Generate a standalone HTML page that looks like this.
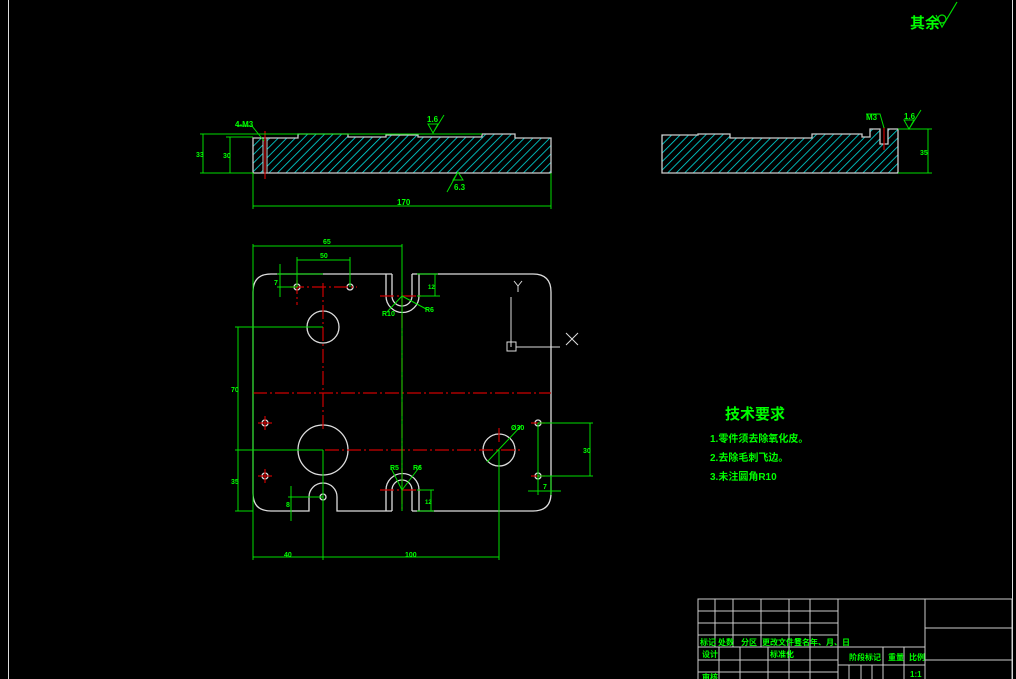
<!DOCTYPE html>
<html><head><meta charset="utf-8"><style>
html,body{margin:0;padding:0;background:#000;}
svg{display:block}
text{font-family:"Liberation Sans","Noto Sans CJK SC",sans-serif;fill:#00ff00;font-weight:bold}
</style></head><body>
<svg width="1016" height="679" viewBox="0 0 1016 679" xmlns="http://www.w3.org/2000/svg">
<defs>
<pattern id="h" patternUnits="userSpaceOnUse" width="6" height="6" patternTransform="rotate(45)">
<line x1="0" y1="0" x2="0" y2="6" stroke="#00e0e0" stroke-width="1.6"/>
</pattern>
</defs>
<rect width="1016" height="679" fill="#000"/>
<line x1="8.5" y1="0" x2="8.5" y2="679" stroke="#ddd" stroke-width="1"/>
<line x1="1012.5" y1="0" x2="1012.5" y2="679" stroke="#ddd" stroke-width="1"/>

<!-- 其余 -->
<text x="910" y="28" font-size="15">其余</text>
<g stroke="#00dd00" stroke-width="1.2" fill="none">
<circle cx="942" cy="19" r="4"/><path d="M936 15 L942 27 L957 2"/>
</g>

<!-- Front/side section view -->
<g>
<path d="M253 138 L298 138 L298 134 L348 134 L348 137 L386 137 L386 135 L418 135 L418 137 L482 137 L482 134 L515 134 L515 138 L551 138 L551 173 L253 173 Z" fill="url(#h)" stroke="#ccc" stroke-width="1.3"/>
<rect x="263" y="138" width="4" height="35" fill="#000" stroke="#ccc" stroke-width="1"/>
<line x1="265" y1="131" x2="265" y2="179" stroke="#c00" stroke-width="1.2"/>
</g>
<g stroke="#00dd00" stroke-width="1" fill="none">
<line x1="200" y1="134" x2="482" y2="134"/>
<line x1="200" y1="173" x2="253" y2="173"/>
<line x1="226" y1="137" x2="253" y2="137"/>
<line x1="203" y1="134" x2="203" y2="173"/>
<line x1="230" y1="137" x2="230" y2="173"/>
<line x1="253" y1="173" x2="253" y2="209"/>
<line x1="551" y1="173" x2="551" y2="209"/>
<line x1="253" y1="206" x2="551" y2="206"/>
<path d="M237 126 L252 126 L264 141"/>
<path d="M428 124 L433 133 L438 124 Z M433 133 L444 115"/>
<path d="M453 180 L458 172 L463 180 Z M458 172 L447 192"/>
</g>
<text x="235" y="127" font-size="8">4-M3</text>
<text x="427" y="122" font-size="8">1.6</text>
<text x="454" y="190" font-size="8">6.3</text>
<text x="196" y="157" font-size="7">33</text>
<text x="223" y="158" font-size="7">30</text>
<text x="397" y="205" font-size="8">170</text>

<!-- Right section view -->
<path d="M662 135 L698 135 L698 134 L730 134 L730 138 L812 138 L812 134 L862 134 L862 137 L870 137 L870 129 L880 129 L880 144 L888 144 L888 129 L898 129 L898 173 L662 173 Z" fill="url(#h)" stroke="#ccc" stroke-width="1.3"/>
<line x1="884" y1="127" x2="884" y2="150" stroke="#c00" stroke-width="1.2"/>
<g stroke="#00dd00" stroke-width="1" fill="none">
<line x1="898" y1="129" x2="932" y2="129"/>
<line x1="898" y1="173" x2="932" y2="173"/>
<line x1="928" y1="129" x2="928" y2="173"/>
<path d="M866 114 L880 114 L884 128"/>
<path d="M904 120 L909 129 L914 120 Z M909 129 L921 110"/>
</g>
<text x="866" y="120" font-size="8">M3</text>
<text x="904" y="119" font-size="8">1.6</text>
<text x="920" y="155" font-size="7">35</text>

<!-- Plan view -->
<g stroke="#ddd" stroke-width="1.3" fill="none">
<path d="M392 274 L271 274 Q253 274 253 292 L253 493 Q253 511 271 511 L309 511 L309 497 A14 14 0 0 1 337 497 L337 511 L392 511"/>
<path d="M412 274 L533 274 Q551 274 551 292 L551 493 Q551 511 533 511 L412 511"/>
<path d="M386 274 L386 296 A16 16 0 0 0 419 296 L419 274"/>
<path d="M392 274 L392 296 A10 10 0 0 0 412 296 L412 274"/>
<path d="M386 511 L386 490 A16 16 0 0 1 419 490 L419 511"/>
<path d="M392 511 L392 490 A10 10 0 0 1 412 490 L412 511"/>
<circle cx="323" cy="327" r="16"/>
<circle cx="323" cy="450" r="25"/>
<circle cx="499" cy="450" r="16"/>
<circle cx="323" cy="497" r="3"/>
<circle cx="297" cy="287" r="3"/><circle cx="350" cy="287" r="3"/>
<circle cx="265" cy="423" r="3"/><circle cx="265" cy="476" r="3"/>
<circle cx="538" cy="423" r="3"/><circle cx="538" cy="476" r="3"/>
</g>
<g stroke="#c00" stroke-width="1.2" fill="none" stroke-dasharray="14 3 2 3">
<line x1="253" y1="393" x2="551" y2="393"/>
<line x1="325" y1="450" x2="522" y2="450"/>
<line x1="323" y1="283" x2="323" y2="430"/>
<line x1="402" y1="292" x2="402" y2="510"/>
<line x1="380" y1="296" x2="424" y2="296"/>
<line x1="380" y1="490" x2="424" y2="490"/>
<line x1="499" y1="428" x2="499" y2="445"/>
<line x1="290" y1="287" x2="357" y2="287"/>
<line x1="297" y1="280" x2="297" y2="305"/>
<line x1="258" y1="423" x2="272" y2="423"/><line x1="265" y1="416" x2="265" y2="430"/>
<line x1="258" y1="476" x2="272" y2="476"/><line x1="265" y1="469" x2="265" y2="483"/>
<line x1="531" y1="423" x2="545" y2="423"/><line x1="531" y1="476" x2="545" y2="476"/>
</g>
<g stroke="#00dd00" stroke-width="1" fill="none">
<line x1="253" y1="244" x2="253" y2="560"/>
<line x1="402" y1="244" x2="402" y2="511"/>
<line x1="253" y1="246" x2="402" y2="246"/>
<line x1="297" y1="257" x2="297" y2="287"/><line x1="350" y1="257" x2="350" y2="287"/>
<line x1="297" y1="260" x2="350" y2="260"/>
<line x1="277" y1="274" x2="323" y2="274"/><line x1="277" y1="287" x2="297" y2="287"/>
<line x1="280" y1="264" x2="280" y2="297"/>
<line x1="417" y1="274" x2="438" y2="274"/><line x1="417" y1="296" x2="440" y2="296"/>
<line x1="435" y1="274" x2="435" y2="296"/>
<path d="M402 296 L387 312 M402 296 L428 310"/>
<line x1="235" y1="327" x2="323" y2="327"/>
<line x1="235" y1="450" x2="323" y2="450"/>
<line x1="235" y1="511" x2="253" y2="511"/>
<line x1="238" y1="327" x2="238" y2="511"/>
<line x1="323" y1="450" x2="323" y2="560"/>
<line x1="499" y1="450" x2="499" y2="560"/>
<line x1="253" y1="557" x2="499" y2="557"/>
<line x1="288" y1="497" x2="323" y2="497"/>
<line x1="291" y1="486" x2="291" y2="521"/>
<line x1="538" y1="423" x2="593" y2="423"/><line x1="538" y1="476" x2="593" y2="476"/>
<line x1="590" y1="423" x2="590" y2="476"/>
<line x1="538" y1="423" x2="538" y2="495"/><line x1="551" y1="476" x2="551" y2="495"/>
<line x1="528" y1="491" x2="561" y2="491"/>
<path d="M402 490 L391 468 M402 490 L421 465"/>
<line x1="417" y1="490" x2="434" y2="490"/><line x1="417" y1="511" x2="434" y2="511"/>
<line x1="431" y1="490" x2="431" y2="511"/>
<line x1="487" y1="462" x2="522" y2="425"/>
</g>
<!-- axis -->
<g stroke="#ddd" stroke-width="1" fill="none">
<line x1="511" y1="297" x2="511" y2="347"/>
<rect x="507" y="342" width="9" height="9"/>
<line x1="516" y1="347" x2="560" y2="347"/>
<path d="M514 281 L518 286 L522 281 M518 286 L518 292"/>
<path d="M566 333 L578 345 M578 333 L566 345"/>
</g>
<g font-size="7">
<text x="323" y="244">65</text>
<text x="320" y="258">50</text>
<text x="274" y="285">7</text>
<text x="428" y="289" font-size="6">12</text>
<text x="382" y="316">R10</text>
<text x="425" y="312">R6</text>
<text x="231" y="392">70</text>
<text x="231" y="484">35</text>
<text x="284" y="557">40</text>
<text x="405" y="557">100</text>
<text x="583" y="453">30</text>
<text x="543" y="489">7</text>
<text x="286" y="507">8</text>
<text x="425" y="504" font-size="6">12</text>
<text x="390" y="470">R5</text>
<text x="413" y="470">R6</text>
<text x="511" y="430">Ø30</text>
</g>

<!-- Tech requirements -->
<text x="725" y="419" font-size="15">技术要求</text>
<text x="710" y="442" font-size="10">1.零件须去除氧化皮。</text>
<text x="710" y="461" font-size="10">2.去除毛刺飞边。</text>
<text x="710" y="480" font-size="10">3.未注圆角R10</text>

<!-- Title block -->
<g stroke="#ccc" stroke-width="1" fill="none">
<rect x="698" y="599" width="314" height="82"/>
<line x1="698" y1="611" x2="838" y2="611"/>
<line x1="698" y1="623" x2="838" y2="623"/>
<line x1="698" y1="635" x2="838" y2="635"/>
<line x1="698" y1="647" x2="925" y2="647"/>
<line x1="698" y1="660" x2="838" y2="660"/>
<line x1="698" y1="672" x2="838" y2="672"/>
<line x1="715" y1="599" x2="715" y2="647"/>
<line x1="733" y1="599" x2="733" y2="647"/>
<line x1="761" y1="599" x2="761" y2="647"/>
<line x1="789" y1="599" x2="789" y2="679"/>
<line x1="810" y1="599" x2="810" y2="679"/>
<line x1="838" y1="599" x2="838" y2="679"/>
<line x1="719" y1="647" x2="719" y2="679"/>
<line x1="740" y1="647" x2="740" y2="679"/>
<line x1="768" y1="647" x2="768" y2="679"/>
<line x1="838" y1="665" x2="925" y2="665"/>
<line x1="883" y1="647" x2="883" y2="679"/>
<line x1="904" y1="647" x2="904" y2="679"/>
<line x1="925" y1="599" x2="925" y2="679"/>
<line x1="849" y1="665" x2="849" y2="679"/>
<line x1="861" y1="665" x2="861" y2="679"/>
<line x1="872" y1="665" x2="872" y2="679"/>
<line x1="925" y1="628" x2="1012" y2="628"/>
<line x1="925" y1="660" x2="1012" y2="660"/>
</g>
<g font-size="8">
<text x="700" y="645">标记</text>
<text x="718" y="645">处数</text>
<text x="741" y="645">分区</text>
<text x="762" y="645">更改文件号</text>
<text x="794" y="645">签名</text>
<text x="810" y="645">年、月、日</text>
<text x="702" y="657">设计</text>
<text x="770" y="657">标准化</text>
<text x="702" y="680">审核</text>
<text x="849" y="660">阶段标记</text>
<text x="888" y="660">重量</text>
<text x="909" y="660">比例</text>
<text x="910" y="677" font-weight="normal">1:1</text>
</g>
</svg>
</body></html>
